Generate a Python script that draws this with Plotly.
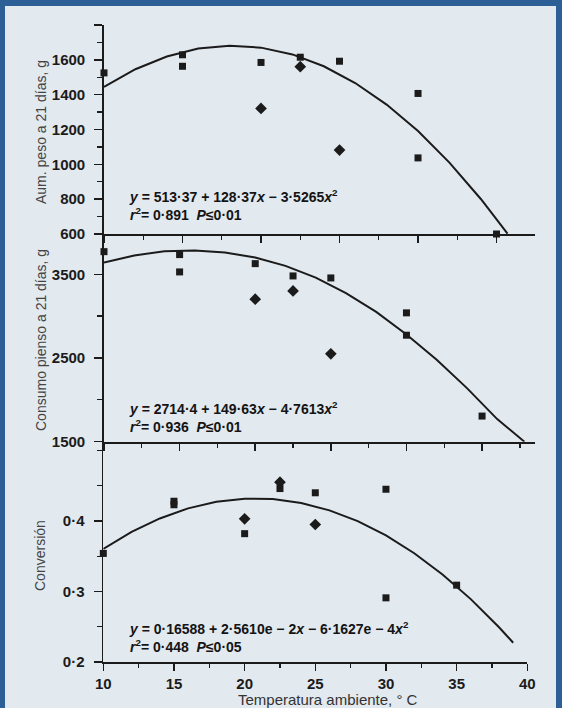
import plotly.graph_objects as go

W, H = 562, 708

# ---------------- data ----------------
# Panel 1: weight gain at 21 days (g)
gain_sq_t = [10, 15, 15, 20, 22.5, 25, 30, 30, 35]
gain_sq = [1525, 1629, 1563, 1585, 1615, 1592, 1407, 1037, 600]
gain_di_t = [20, 22.5, 25]
gain_di = [1321, 1561, 1082]
gain_fit_t = [10, 12, 14, 16, 18, 20, 22, 24, 26, 28, 30, 32, 34, 35, 35.7]
gain_fit = [1444, 1546, 1619, 1665, 1681, 1670, 1631, 1563, 1467, 1343, 1191, 1010, 801, 686, 602]

# Panel 2: feed intake at 21 days (g)
feed_sq_t = [10, 15, 15, 20, 22.5, 25, 30, 30, 35]
feed_sq = [3770, 3735, 3528, 3627, 3480, 3456, 3039, 2772, 1806]
feed_di_t = [20, 22.5, 25]
feed_di = [3202, 3301, 2550]
feed_fit_t = [10, 12, 14, 16, 18, 20, 22, 24, 26, 28, 30, 32, 34, 36, 37.8]
feed_fit = [3640, 3725, 3775, 3785, 3760, 3700, 3600, 3460, 3275, 3050, 2780, 2480, 2140, 1770, 1500]

# Panel 3: conversion
conv_sq_t = [10, 15, 15, 20, 22.5, 25, 30, 30, 35]
conv_sq = [0.354, 0.428, 0.423, 0.382, 0.446, 0.440, 0.445, 0.291, 0.309]
conv_di_t = [20, 22.5, 25]
conv_di = [0.403, 0.455, 0.395]
conv_fit_t = [10, 12, 14, 16, 18, 20, 22, 24, 26, 28, 30, 32, 34, 36, 38, 39]
conv_fit = [0.3604, 0.3845, 0.4036, 0.4179, 0.4272, 0.4316, 0.4310, 0.4255,
            0.4151, 0.3998, 0.3795, 0.3543, 0.3242, 0.2892, 0.2492, 0.2273]

x_ticks = [10, 15, 20, 25, 30, 35, 40]
gain_ticks = [600, 800, 1000, 1200, 1400, 1600, 1800]
gain_labels = ["600", "800", "1000", "1200", "1400", "1600", ""]
feed_ticks = [1500, 2500, 3500]
feed_labels = ["1500", "2500", "3500"]
conv_ticks = [0.2, 0.3, 0.4]
conv_labels = ["0·2", "0·3", "0·4"]

eq_gain = ["<i>y</i> = 513·37 + 128·37<i>x</i> − 3·5265<i>x</i><sup>2</sup>",
           "<i>r</i><sup>2</sup>= 0·891  <i>P</i>≤0·01"]
eq_feed = ["<i>y</i> = 2714·4 + 149·63<i>x</i> − 4·7613<i>x</i><sup>2</sup>",
           "<i>r</i><sup>2</sup>= 0·936  <i>P</i>≤0·01"]
eq_conv = ["<i>y</i> = 0·16588 + 2·5610e − 2<i>x</i> − 6·1627e − 4<i>x</i><sup>2</sup>",
           "<i>r</i><sup>2</sup>= 0·448  <i>P</i>≤0·05"]

# ---------------- styling ----------------
INK = "#1b1b1b"
BG = "#e2e9ef"
FRAME = "#2c5f96"
FONT = "Liberation Sans, Arial, Helvetica, sans-serif"


def fx(px):
    return px / W


def fy(py):
    return 1 - py / H


fig = go.Figure()

panels = [
    ("x", "y", gain_sq_t, gain_sq, gain_di_t, gain_di, gain_fit_t, gain_fit),
    ("x2", "y2", feed_sq_t, feed_sq, feed_di_t, feed_di, feed_fit_t, feed_fit),
    ("x3", "y3", conv_sq_t, conv_sq, conv_di_t, conv_di, conv_fit_t, conv_fit),
]
for xa, ya, st, sv, dt, dv, ft, fv in panels:
    fig.add_trace(go.Scatter(x=ft, y=fv, mode="lines", xaxis=xa, yaxis=ya,
                             line=dict(color=INK, width=2), showlegend=False,
                             hoverinfo="skip"))
    fig.add_trace(go.Scatter(x=st, y=sv, mode="markers", xaxis=xa, yaxis=ya,
                             marker=dict(symbol="square", size=7, color=INK),
                             cliponaxis=False, showlegend=False))
    fig.add_trace(go.Scatter(x=dt, y=dv, mode="markers", xaxis=xa, yaxis=ya,
                             marker=dict(symbol="diamond", size=9, color=INK),
                             cliponaxis=False, showlegend=False))

tickfont = dict(family=FONT, size=15, color=INK, weight="bold")


def xax(domain, rng, anchor, labels):
    return dict(domain=domain, range=rng, anchor=anchor, showline=True,
                linecolor=INK, linewidth=1.8, showgrid=False, zeroline=False,
                ticks="outside", ticklen=7, tickwidth=1.5, tickcolor=INK,
                tickvals=x_ticks, ticktext=[str(v) for v in x_ticks],
                showticklabels=labels, tickfont=tickfont, automargin=False,
                ticklabelstandoff=0,
                minor=dict(ticks="outside", ticklen=4, tickwidth=1.3,
                           tickcolor=INK, tick0=10, dtick=2.5, showgrid=False))


def yax(domain, rng, anchor, tv, tt, mdt):
    return dict(domain=domain, range=rng, anchor=anchor, showline=True,
                linecolor=INK, linewidth=1.8, showgrid=False, zeroline=False,
                ticks="outside", ticklen=8, tickwidth=1.5, tickcolor=INK,
                tickvals=tv, ticktext=tt, tickfont=tickfont, automargin=False,
                ticklabelstandoff=6,
                minor=dict(ticks="outside", ticklen=5, tickwidth=1.3,
                           tickcolor=INK, tick0=tv[0], dtick=mdt, showgrid=False))


xd = [fx(104), fx(535)]
fig.update_layout(
    xaxis=xax(xd, [10, 37.45], "y", False),
    yaxis=yax([fy(234), fy(25)], [600, 1800], "x", gain_ticks, gain_labels, 100),
    xaxis2=xax(xd, [10, 38.5], "y2", False),
    yaxis2=yax([fy(441.7), fy(234)], [1500, 3981], "x2", feed_ticks, feed_labels, 500),
    xaxis3=xax([fx(103.3), fx(527.3)], [10, 40], "y3", True),
    yaxis3=yax([fy(662), fy(443)], [0.2, 0.5106], "x3", conv_ticks, conv_labels, 0.05),
)

ann = []
titles = [("Aum. peso a 21 días, g", 41, 132),
          ("Consumo pienso a 21 días, g", 41, 340),
          ("Conversión", 40, 556)]
for txt, x, y in titles:
    ann.append(dict(text=txt, x=fx(x), y=fy(y), xref="paper", yref="paper",
                    textangle=-90, showarrow=False, xanchor="center", yanchor="middle",
                    font=dict(family=FONT, size=14, color="#444444")))
ann.append(dict(text="Temperatura ambiente, ° C", x=fx(328), y=fy(699), xref="paper",
                yref="paper", showarrow=False, xanchor="center", yanchor="middle",
                font=dict(family=FONT, size=15, color="#333333")))

for lines, ymid in [(eq_gain, 205), (eq_feed, 417), (eq_conv, 637)]:
    ann.append(dict(text="<br>".join(lines), x=fx(127), y=fy(ymid), xref="paper",
                    yref="paper", showarrow=False, xanchor="left", yanchor="middle",
                    align="left",
                    font=dict(family=FONT, size=14, color="#141414", weight="bold")))

shapes = [
    dict(type="rect", xref="paper", yref="paper", x0=0, x1=fx(5), y0=0, y1=1,
         fillcolor=FRAME, line=dict(width=0), layer="above"),
    dict(type="rect", xref="paper", yref="paper", x0=fx(556), x1=1, y0=0, y1=1,
         fillcolor=FRAME, line=dict(width=0), layer="above"),
    dict(type="rect", xref="paper", yref="paper", x0=0, x1=1, y0=fy(6), y1=1,
         fillcolor=FRAME, line=dict(width=0), layer="above"),
]

fig.update_layout(
    width=W, height=H, margin=dict(l=0, r=0, t=0, b=0),
    paper_bgcolor=BG, plot_bgcolor="rgba(0,0,0,0)",
    annotations=ann, shapes=shapes, showlegend=False,
    font=dict(family=FONT, color=INK),
)

fig.write_html(
    "out.html",
    config={"displayModeBar": False, "staticPlot": True},
    post_script="document.body.style.margin='0px';document.body.style.padding='0px';"
                "document.body.style.overflow='hidden';"
                "document.body.style.background='" + BG + "';",
)
